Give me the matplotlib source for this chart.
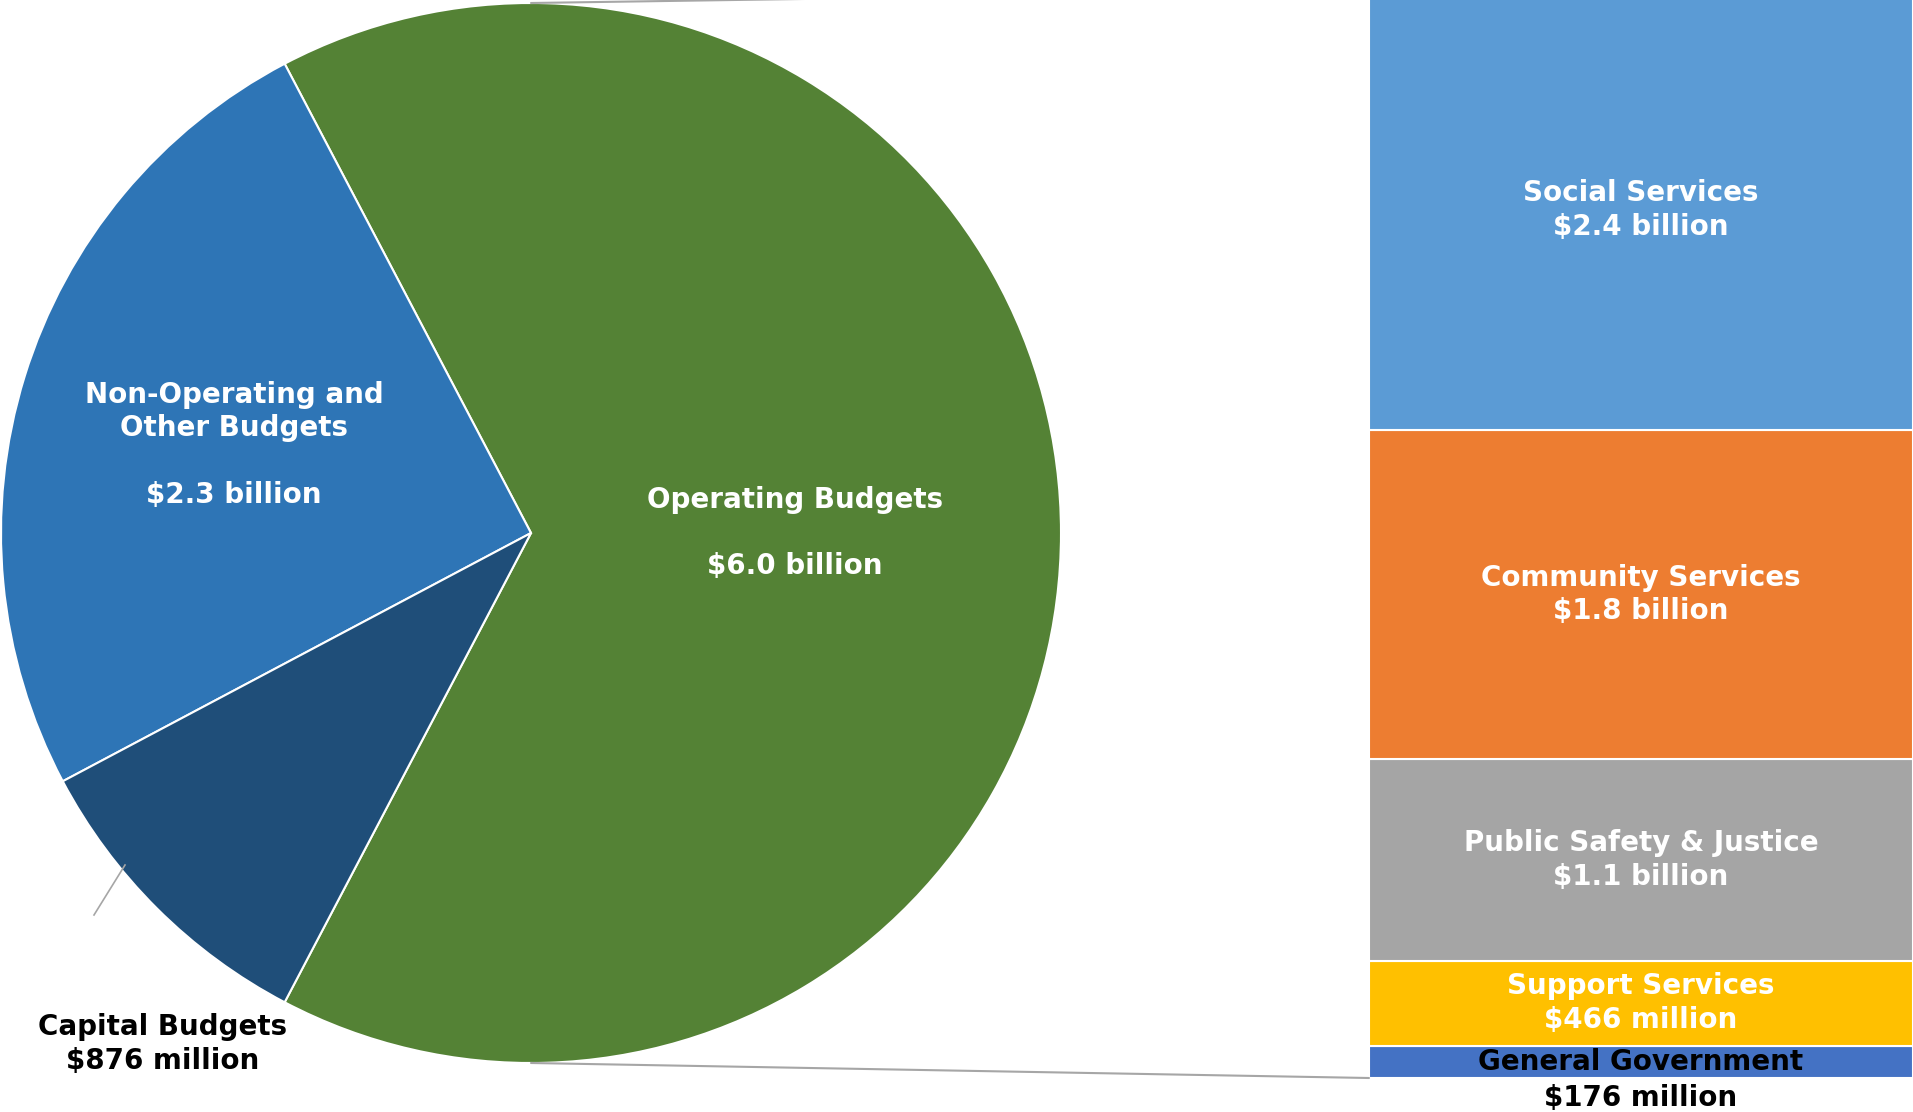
import matplotlib
matplotlib.use("Agg")
import matplotlib.pyplot as plt
from matplotlib.patches import ConnectionPatch

plt.rcParams['font.family'] = ['DejaVu Sans']

# Top-level budget split (billions)
pie_labels = ["Operating Budgets\n\n$6.0 billion",
              "Non-Operating and\nOther Budgets\n\n$2.3 billion",
              "Capital Budgets\n$876 million"]
pie_values = [6.0, 2.3, 0.876]
pie_colors = ["#548235", "#2E75B6", "#1F4E79"]

# Operating budgets broken down by service area (billions), bottom to top
bar_labels = ["General Government\n$176 million",
              "Support Services\n$466 million",
              "Public Safety & Justice\n$1.1 billion",
              "Community Services\n$1.8 billion",
              "Social Services\n$2.4 billion"]
bar_values = [0.176, 0.466, 1.1, 1.8, 2.4]
bar_colors = ["#4472C4", "#FFC000", "#A5A5A5", "#ED7D31", "#5B9BD5"]

W, H = 1913, 1112
fig = plt.figure(figsize=(W / 100, H / 100), dpi=100)

# Pie axes spans the whole figure in pixel-like units
ax = fig.add_axes([0, 0, 1, 1])
ax.set_xlim(0, W)
ax.set_ylim(0, H)
ax.set_aspect('equal')
ax.axis('off')

cx, cy, r = 531, 579, 530
op_angle = pie_values[0] / sum(pie_values) * 360
wedges, _ = ax.pie(pie_values, colors=pie_colors, center=(cx, cy), radius=r,
                   startangle=-op_angle / 2, counterclock=True,
                   wedgeprops=dict(edgecolor='white', linewidth=1.5))
ax.set_xlim(0, W)
ax.set_ylim(0, H)

fs = 20
ls = 1.25
ax.text(795, H - 533, pie_labels[0], ha='center', va='center', color='white',
        fontsize=fs, fontweight='bold', linespacing=ls)
ax.text(234, H - 445, pie_labels[1], ha='center', va='center', color='white',
        fontsize=fs, fontweight='bold', linespacing=ls)
ax.text(163, H - 1044, pie_labels[2], ha='center', va='center', color='black',
        fontsize=fs, fontweight='bold', linespacing=ls)
ax.plot([125, 94], [H - 865, H - 915], color='#A6A6A6', lw=1.2)

# Stacked bar of the operating breakdown
bx0, bx1 = 1369, 1913
by0 = H - 1078
px_per_b = 183
bar_h = sum(bar_values) * px_per_b
bax = fig.add_axes([bx0 / W, by0 / H, (bx1 - bx0) / W, bar_h / H])
bax.set_xlim(0, 1)
bax.set_ylim(0, sum(bar_values))
bax.axis('off')

bottom = 0
for lab, val, col in zip(bar_labels, bar_values, bar_colors):
    bax.bar(0.5, val, width=1.0, bottom=bottom, color=col,
            edgecolor='white', linewidth=1.5)
    mid = bottom + val / 2
    if lab.startswith("General"):
        name, amt = lab.split("\n")
        bax.text(0.5, mid, name, ha='center', va='center', color='black',
                 fontsize=fs, fontweight='bold')
        bax.text(0.5, mid - 36 / px_per_b, amt, ha='center', va='center',
                 color='black', fontsize=fs, fontweight='bold', clip_on=False)
    else:
        bax.text(0.5, mid, lab, ha='center', va='center', color='white',
                 fontsize=fs, fontweight='bold', linespacing=ls)
    bottom += val

# Connector lines from the pie's top and bottom to the bar's left corners
for py, by in [(cy + r, 1), (cy - r, 0)]:
    con = ConnectionPatch(xyA=(cx, py), coordsA=ax.transData,
                          xyB=(0, by), coordsB=bax.transAxes,
                          color='#A6A6A6', lw=1.5)
    fig.add_artist(con)

fig.savefig("out.png", dpi=100)
